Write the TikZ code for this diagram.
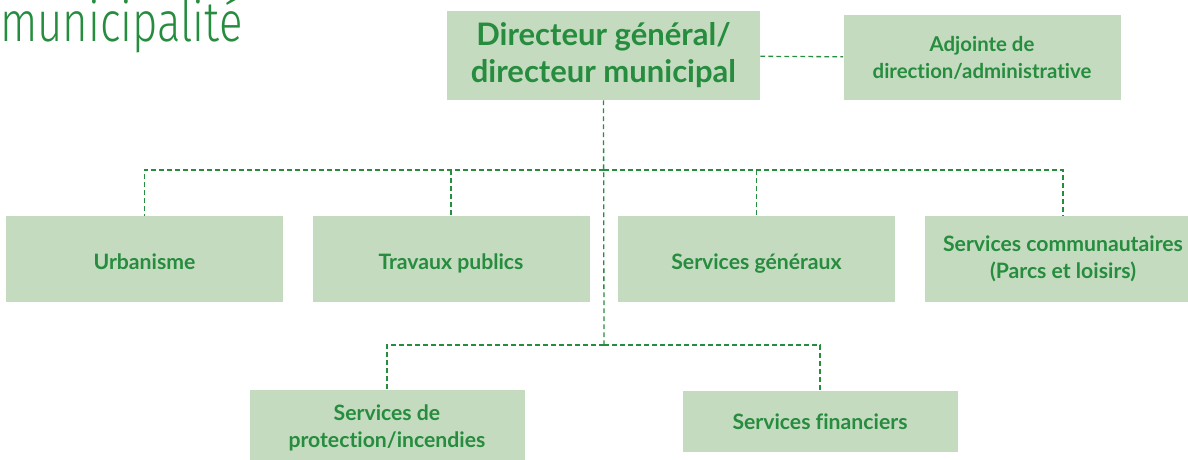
\documentclass[tikz,border=0pt]{standalone}
\usepackage{fontspec}
\setmainfont[Ligatures=NoCommon]{Lato}
\newfontfamily\titlefont[FakeStretch=0.78]{Fira Sans Light}
\usetikzlibrary{positioning}
\definecolor{orgfill}{RGB}{196,219,192}
\definecolor{orggreen}{RGB}{38,140,62}
\tikzstyle{unit} = [rectangle,
fill=orgfill,
minimum width=138.5pt,
minimum height=43pt,
text centered,
align=center,
text=orggreen,
font=\bfseries\fontsize{10.6}{13.5}\selectfont]
\tikzstyle{oneline} = [unit, text height=10pt, text depth=0pt]
\tikzstyle{head} = [unit,
minimum width=156.5pt,
minimum height=44.5pt,
font=\bfseries\fontsize{15.5}{18.5}\selectfont]
\tikzstyle{link} = [draw=orggreen, line width=0.65pt, dash pattern=on 2.4pt off 1.6pt]

\begin{document}
\begin{tikzpicture}[x=0.5pt,y=-0.5pt]
\useasboundingbox (0,0) rectangle (1188,460);

\node (title) [anchor=base west, inner sep=0pt, text=orggreen,
  font=\titlefont\fontsize{28}{31}\selectfont] at (0,42) {municipalité};

\node (dir) [head] at (603.5,55.5) {
  \raisebox{-1.5pt}{Directeur général/}\\
  \raisebox{-1.5pt}{directeur municipal}
};

\node (adj) [unit, minimum height=42.5pt, font=\bfseries\fontsize{10.2}{13.5}\selectfont] at (982,57.5) {
  Adjointe de\\
  direction/administrative
};

\node (urb) [oneline] at (144.5,259) {Urbanisme};
\node (trav) [oneline] at (451,259) {Travaux publics};
\node (gen) [oneline] at (756.5,259) {Services généraux};
\node (comm) [unit] at (1063,259) {
  Services communautaires\\
  (Parcs et loisirs)
};

\node (prot) [unit, minimum width=137.5pt, minimum height=38pt] at (387,428) {
  Services de\\
  protection/incendies
};
\node (fin) [unit, minimum width=137.5pt, minimum height=30.5pt] at (820,421.5) {Services financiers};

\coordinate (busA) at (604,170);
\coordinate (busB) at (604,345);

\draw [link] (dir) -- (adj);
\draw [link] (dir.south) -- (busB);
\draw [link] (busA) -| (urb.north);
\draw [link] (busA) -| (comm.north);
\draw [link] (trav.north |- busA) -- (trav.north);
\draw [link] (gen.north |- busA) -- (gen.north);
\draw [link] (busB) -| (prot.north);
\draw [link] (busB) -| (fin.north);

\end{tikzpicture}
\end{document}
